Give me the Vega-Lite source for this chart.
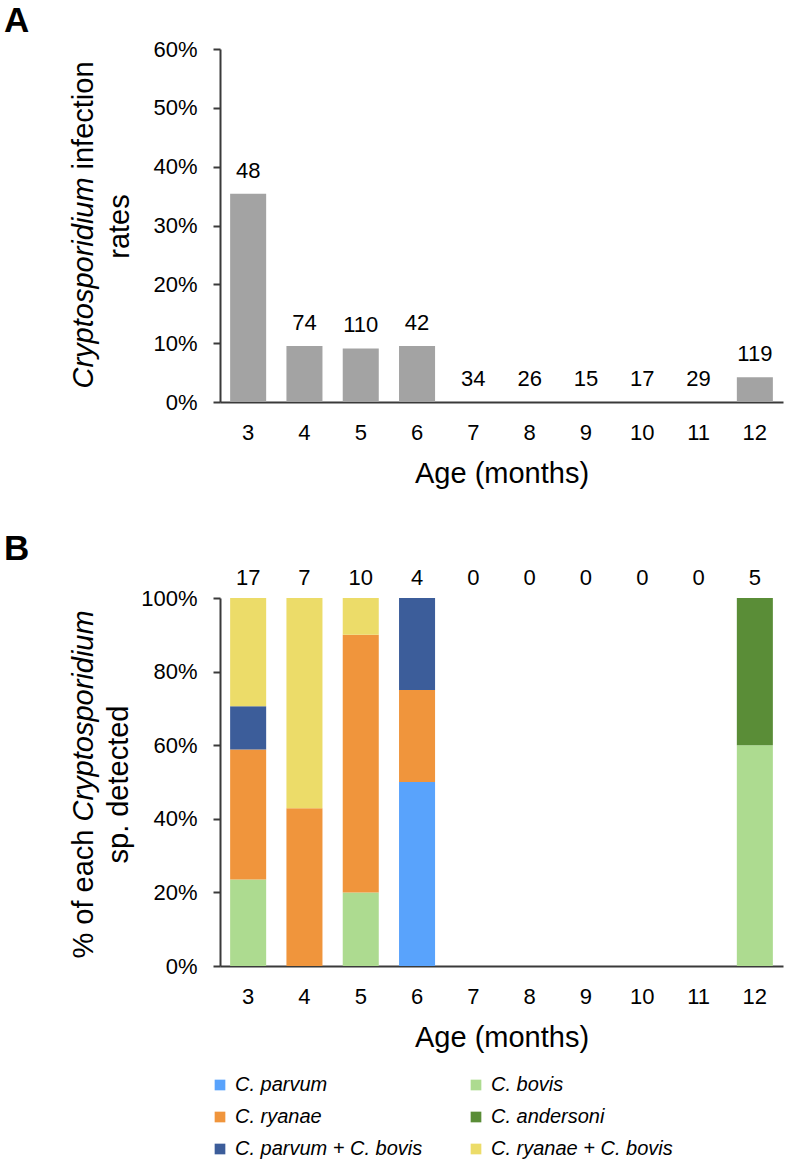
{
  "$schema": "https://vega.github.io/schema/vega-lite/v6.json",
  "padding": {"left": 4, "top": 4, "right": 4, "bottom": 0},
  "autosize": {"type": "pad"},
  "background": "white",
  "config": {
    "font": "Liberation Sans",
    "view": {"stroke": null},
    "axis": {"labelFont": "Liberation Sans", "labelFontSize": 22, "labelColor": "#000", "titleFont": "Liberation Sans", "titleFontSize": 29, "titleFontWeight": "normal", "titleColor": "#000", "domainColor": "#3a3a3a", "domainWidth": 2, "tickColor": "#3a3a3a", "tickWidth": 2, "grid": false},
    "axisX": {"ticks": false, "tickSize": 0, "labelPadding": 20, "labelAngle": 0, "titlePadding": 16},
    "axisY": {"tickSize": 7, "labelPadding": 16, "titleAngle": 270, "titleBaseline": "alphabetic"},
    "title": {"font": "Liberation Sans", "fontSize": 35, "fontWeight": "bold", "color": "#000", "anchor": "start", "frame": "group", "baseline": "alphabetic", "dx": -216},
    "legend": {"labelFont": "Liberation Sans", "labelFontSize": 20, "labelFontStyle": "italic", "labelColor": "#000", "symbolType": "square", "symbolSize": 114, "symbolStrokeWidth": 0, "labelOffset": 5, "columnPadding": 43, "rowPadding": 12, "padding": 0, "labelLimit": 400}
  },
  "datasets": {
    "rates": [
      {"age": 3, "rate": 0.354, "n": 48},
      {"age": 4, "rate": 0.095, "n": 74},
      {"age": 5, "rate": 0.091, "n": 110},
      {"age": 6, "rate": 0.095, "n": 42},
      {"age": 7, "rate": 0, "n": 34},
      {"age": 8, "rate": 0, "n": 26},
      {"age": 9, "rate": 0, "n": 15},
      {"age": 10, "rate": 0, "n": 17},
      {"age": 11, "rate": 0, "n": 29},
      {"age": 12, "rate": 0.042, "n": 119}
    ],
    "species": [
      {"age": 3, "species": "C. bovis", "pct": 0.2353},
      {"age": 3, "species": "C. ryanae", "pct": 0.3529},
      {"age": 3, "species": "C. parvum + C. bovis", "pct": 0.1176},
      {"age": 3, "species": "C. ryanae + C. bovis", "pct": 0.2942},
      {"age": 4, "species": "C. ryanae", "pct": 0.4286},
      {"age": 4, "species": "C. ryanae + C. bovis", "pct": 0.5714},
      {"age": 5, "species": "C. bovis", "pct": 0.2},
      {"age": 5, "species": "C. ryanae", "pct": 0.7},
      {"age": 5, "species": "C. ryanae + C. bovis", "pct": 0.1},
      {"age": 6, "species": "C. parvum", "pct": 0.5},
      {"age": 6, "species": "C. ryanae", "pct": 0.25},
      {"age": 6, "species": "C. parvum + C. bovis", "pct": 0.25},
      {"age": 12, "species": "C. bovis", "pct": 0.6},
      {"age": 12, "species": "C. andersoni", "pct": 0.4}
    ],
    "counts": [
      {"age": 3, "n": 17},
      {"age": 4, "n": 7},
      {"age": 5, "n": 10},
      {"age": 6, "n": 4},
      {"age": 7, "n": 0},
      {"age": 8, "n": 0},
      {"age": 9, "n": 0},
      {"age": 10, "n": 0},
      {"age": 11, "n": 0},
      {"age": 12, "n": 5}
    ]
  },
  "bounds": "flush",
  "spacing": 196,
  "resolve": {"legend": {"color": "independent"}},
  "vconcat": [
    {
      "width": 563,
      "height": 353,
      "title": {"text": "A", "offset": -1},
      "data": {"name": "rates"},
      "encoding": {
        "x": {"field": "age", "type": "ordinal", "scale": {"domain": [3, 4, 5, 6, 7, 8, 9, 10, 11, 12], "paddingInner": 0.36, "paddingOuter": 0.18}, "axis": {"title": "Age (months)"}}
      },
      "resolve": {"axis": {"y": "independent"}},
      "layer": [
        {
          "mark": {"type": "bar", "color": "#a3a3a3"},
          "encoding": {
            "y": {"field": "rate", "type": "quantitative", "scale": {"domain": [0, 0.6], "nice": false}, "axis": {"orient": "left", "format": ".0%", "values": [0, 0.1, 0.2, 0.3, 0.4, 0.5, 0.6], "title": "rates", "titleX": -92, "titleY": 177, "titleAlign": "center"}}
          }
        },
        {
          "transform": [{"filter": "datum.rate > 0"}],
          "mark": {"type": "text", "font": "Liberation Sans", "fontSize": 22, "color": "#000", "baseline": "alphabetic", "dy": -16},
          "encoding": {
            "y": {"field": "rate", "type": "quantitative", "axis": {"orient": "left", "labels": false, "ticks": false, "domain": false, "title": "Cryptosporidium", "titleFontStyle": "italic", "titleX": -128, "titleY": 339, "titleAlign": "left"}},
            "text": {"field": "n", "type": "quantitative"}
          }
        },
        {
          "transform": [{"filter": "datum.rate == 0"}],
          "mark": {"type": "text", "font": "Liberation Sans", "fontSize": 22, "color": "#000", "baseline": "alphabetic", "dy": -16},
          "encoding": {
            "y": {"field": "rate", "type": "quantitative", "axis": {"orient": "left", "labels": false, "ticks": false, "domain": false, "title": "infection", "titleX": -128, "titleY": 120, "titleAlign": "left"}},
            "text": {"field": "n", "type": "quantitative"}
          }
        }
      ]
    },
    {
      "width": 563,
      "height": 368,
      "title": {"text": "B", "offset": 0},
      "encoding": {
        "x": {"field": "age", "type": "ordinal", "scale": {"domain": [3, 4, 5, 6, 7, 8, 9, 10, 11, 12], "paddingInner": 0.36, "paddingOuter": 0.18}, "axis": {"title": "Age (months)"}}
      },
      "resolve": {"axis": {"y": "independent"}},
      "layer": [
        {
          "data": {"name": "species"},
          "transform": [
            {"calculate": "indexof(['C. parvum', 'C. bovis', 'C. ryanae', 'C. andersoni', 'C. parvum + C. bovis', 'C. ryanae + C. bovis'], datum.species)", "as": "stack_rank"}
          ],
          "mark": {"type": "bar"},
          "encoding": {
            "y": {"field": "pct", "type": "quantitative", "stack": "zero", "scale": {"domain": [0, 1], "nice": false}, "axis": {"orient": "left", "format": ".0%", "values": [0, 0.2, 0.4, 0.6, 0.8, 1], "title": "sp. detected", "titleX": -93, "titleY": 186, "titleAlign": "center"}},
            "order": {"field": "stack_rank", "type": "quantitative", "sort": "ascending"},
            "color": {
              "field": "species", "type": "nominal",
              "scale": {"domain": ["C. parvum", "C. bovis", "C. ryanae", "C. andersoni", "C. parvum + C. bovis", "C. ryanae + C. bovis"], "range": ["#59a3fc", "#addb90", "#f0953c", "#5a8d37", "#3c5d9a", "#ecdc69"]},
              "legend": {"title": null, "orient": "none", "legendX": -10, "legendY": 477, "columns": 2, "direction": "horizontal"}
            }
          }
        },
        {
          "data": {"name": "counts"},
          "transform": [{"filter": "datum.n > 0"}],
          "mark": {"type": "text", "font": "Liberation Sans", "fontSize": 22, "color": "#000", "baseline": "alphabetic", "dy": -13},
          "encoding": {
            "y": {"datum": 1, "type": "quantitative", "axis": {"orient": "left", "labels": false, "ticks": false, "domain": false, "title": "% of each", "titleX": -128, "titleY": 360, "titleAlign": "left"}},
            "text": {"field": "n", "type": "quantitative"}
          }
        },
        {
          "data": {"name": "counts"},
          "transform": [{"filter": "datum.n == 0"}],
          "mark": {"type": "text", "font": "Liberation Sans", "fontSize": 22, "color": "#000", "baseline": "alphabetic", "dy": -13},
          "encoding": {
            "y": {"datum": 1, "type": "quantitative", "axis": {"orient": "left", "labels": false, "ticks": false, "domain": false, "title": "Cryptosporidium", "titleFontStyle": "italic", "titleX": -128, "titleY": 223, "titleAlign": "left"}},
            "text": {"field": "n", "type": "quantitative"}
          }
        }
      ]
    }
  ]
}
